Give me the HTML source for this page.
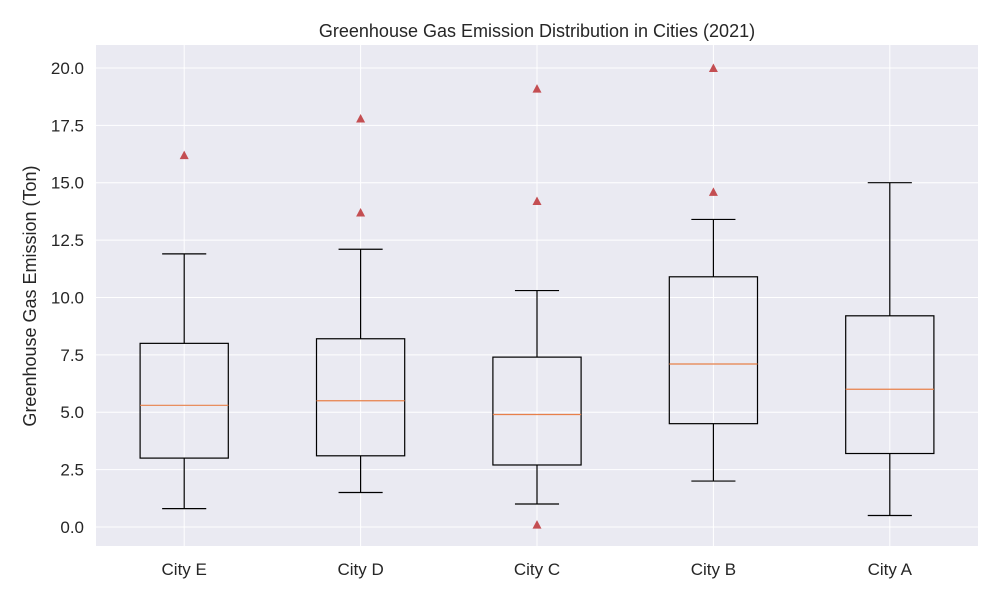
<!DOCTYPE html>
<html><head><meta charset="utf-8"><style>
body{margin:0;background:#fff;font-family:"Liberation Sans",sans-serif}
</style></head><body>
<svg id="chart" width="1000" height="600" xmlns="http://www.w3.org/2000/svg" font-family="Liberation Sans, sans-serif">
<rect width="1000" height="600" fill="#fff"/>
<rect x="96" y="45" width="882" height="501" fill="#eaeaf2"/>
<g id="grid"></g>
<g id="boxes"></g>
<g id="labels"></g>
<text x="537" y="37" text-anchor="middle" font-size="18" fill="#262626">Greenhouse Gas Emission Distribution in Cities (2021)</text>
<text transform="translate(36,296) rotate(-90)" text-anchor="middle" font-size="18" fill="#262626">Greenhouse Gas Emission (Ton)</text>
</svg>
<script>
const categories=["City E","City D","City C","City B","City A"];
const whiskerLow=[0.8,1.5,1.0,2.0,0.5];
const q1=[3.0,3.1,2.7,4.5,3.2];
const median=[5.3,5.5,4.9,7.1,6.0];
const q3=[8.0,8.2,7.4,10.9,9.2];
const whiskerHigh=[11.9,12.1,10.3,13.4,15.0];
const outliers=[[16.2],[13.7,17.8],[0.1,14.2,19.1],[14.6,20.0],[]];
const yTicks=[0,2.5,5,7.5,10,12.5,15,17.5,20];
const yTickLabels=["0.0","2.5","5.0","7.5","10.0","12.5","15.0","17.5","20.0"];

const NS="http://www.w3.org/2000/svg";
const L=96,R=978,T=45,B=546,yMin=-0.83,yMax=21.0;
const xs=i=>L+(i+0.5)*(R-L)/categories.length;
const ys=v=>B-(v-yMin)/(yMax-yMin)*(B-T);
const unit=(R-L)/categories.length;
function mk(tag,attrs,parent){const e=document.createElementNS(NS,tag);for(const k in attrs)e.setAttribute(k,attrs[k]);parent.appendChild(e);return e;}
const grid=document.getElementById('grid'),boxes=document.getElementById('boxes'),labels=document.getElementById('labels');
yTicks.forEach((t,i)=>{
  const g=mk('line',{x1:L,x2:R,y1:ys(t),y2:ys(t),stroke:'#fff','stroke-width':1},grid);
  
  
  const tx=mk('text',{x:L-12,y:ys(t)+6,'text-anchor':'end','font-size':17,fill:'#262626'},labels);
  tx.textContent=yTickLabels[i];
  
  
});
categories.forEach((c,i)=>{
  const x=xs(i);
  const g=mk('line',{x1:x,x2:x,y1:T,y2:B,stroke:'#fff','stroke-width':1},grid);
  
  
  const tx=mk('text',{x:x,y:B+29,'text-anchor':'middle','font-size':17,fill:'#262626'},labels);
  tx.textContent=c;
  
  
  const grp=mk('g',{},boxes);
  
  
  const bw=unit*0.5/2, cw=unit*0.25/2;
  mk('rect',{x:x-bw,y:ys(q3[i]),width:2*bw,height:ys(q1[i])-ys(q3[i]),fill:'none',stroke:'#000','stroke-width':1.2},grp);
  mk('line',{x1:x-bw,x2:x+bw,y1:ys(median[i]),y2:ys(median[i]),stroke:'#e8804a','stroke-width':1.2},grp);
  mk('line',{x1:x,x2:x,y1:ys(q1[i]),y2:ys(whiskerLow[i]),stroke:'#000','stroke-width':1.2},grp);
  mk('line',{x1:x,x2:x,y1:ys(q3[i]),y2:ys(whiskerHigh[i]),stroke:'#000','stroke-width':1.2},grp);
  mk('line',{x1:x-cw,x2:x+cw,y1:ys(whiskerLow[i]),y2:ys(whiskerLow[i]),stroke:'#000','stroke-width':1.2},grp);
  mk('line',{x1:x-cw,x2:x+cw,y1:ys(whiskerHigh[i]),y2:ys(whiskerHigh[i]),stroke:'#000','stroke-width':1.2},grp);
  outliers[i].forEach(v=>{
    const y=ys(v);
    const p=mk('polygon',{points:`${x},${y-4.5} ${x-4.5},${y+4} ${x+4.5},${y+4}`,fill:'#c44e52'},grp);
    
    
  });
});
</script>
</body></html>
